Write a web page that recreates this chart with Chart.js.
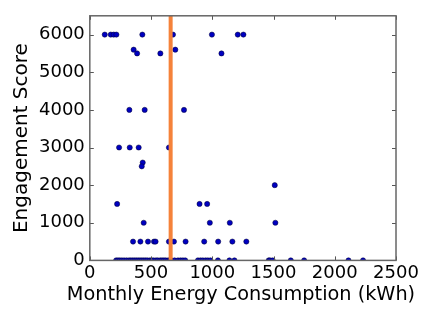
<!DOCTYPE html>
<html>
<head>
<meta charset="utf-8">
<script src="https://cdn.jsdelivr.net/npm/chart.js@4.4.0/dist/chart.umd.min.js"></script>
<style>
  html, body { margin: 0; padding: 0; background: #fff; }
  #wrap { width: 423px; height: 309px; }
</style>
</head>
<body>
<div id="wrap"><canvas id="chartGeral"></canvas></div>
<script>
// valores
var consumo = [
  122, 171, 195, 217, 429, 679, 997, 1208, 1254,
  358, 698,
  386, 576, 1075,
  323, 448, 769,
  239, 326, 399, 646,
  432, 424,
  223, 896, 958,
  440, 980, 1143, 1515,
  1510,
  353, 413, 475, 524, 537, 646, 687, 782, 934, 1048, 1164, 1278,
  215, 230, 245, 262, 280, 300, 320, 335, 350, 365, 380, 395, 410, 425, 440,
  455, 470, 490, 505, 520, 540, 555, 575, 590, 605, 620, 640, 655,
  665, 692, 720, 741, 760, 779, 883, 904, 923, 945, 964, 985, 1046, 1140, 1181,
  1461, 1471, 1493, 1641, 1750, 2112, 2231
];
var engajamento = [
  6000, 6000, 6000, 6000, 6000, 6000, 6000, 6000, 6000,
  5600, 5600,
  5500, 5500, 5500,
  4000, 4000, 4000,
  3000, 3000, 3000, 3000,
  2600, 2500,
  1500, 1500, 1500,
  1000, 1000, 1000, 1000,
  2000,
  500, 500, 500, 500, 500, 500, 500, 500, 500, 500, 500, 500,
  0, 0, 0, 0, 0, 0, 0, 0, 0, 0, 0, 0, 0, 0, 0,
  0, 0, 0, 0, 0, 0, 0, 0, 0, 0, 0, 0, 0,
  0, 0, 0, 0, 0, 0, 0, 0, 0, 0, 0, 0, 0, 0, 0,
  0, 0, 0, 0, 0, 0, 0
];
var mediaConsumo = 660;
var ticksX = [0, 500, 1000, 1500, 2000, 2500];
var ticksY = [0, 1000, 2000, 3000, 4000, 5000, 6000];
var tituloX = 'Monthly Energy Consumption (kWh)';

var pontos = [];
for (var i = 0; i < consumo.length; i++) {
  pontos.push({ x: consumo[i], y: engajamento[i] });
}

// moldura + tracinhos pra dentro (estilo matplotlib) + titulo do eixo x
var moldura = {
  id: 'moldura',
  afterDraw: function (chart) {
    var ctx = chart.ctx;
    var a = chart.chartArea;
    var sx = chart.scales.x, sy = chart.scales.y;
    ctx.save();
    ctx.strokeStyle = '#555';
    ctx.lineWidth = 1;
    ctx.beginPath();
    ticksX.forEach(function (v) {
      var px = Math.round(sx.getPixelForValue(v)) + 0.5;
      ctx.moveTo(px, a.bottom); ctx.lineTo(px, a.bottom - 4);
      ctx.moveTo(px, a.top); ctx.lineTo(px, a.top + 4);
    });
    ticksY.forEach(function (v) {
      var py = Math.round(sy.getPixelForValue(v)) + 0.5;
      ctx.moveTo(a.left, py); ctx.lineTo(a.left + 4, py);
      ctx.moveTo(a.right, py); ctx.lineTo(a.right - 4, py);
    });
    ctx.stroke();
    ctx.strokeStyle = '#666';
    ctx.lineWidth = 1.5;
    ctx.strokeRect(a.left, a.top, a.right - a.left, a.bottom - a.top);

    // o titulo passa da largura do eixo, entao desenho na mao
    ctx.fillStyle = '#000';
    ctx.font = '19.3px "DejaVu Sans"';
    ctx.textAlign = 'center';
    ctx.textBaseline = 'middle';
    ctx.fillText(tituloX, 241, 295);
    ctx.restore();
  }
};

function semVirgula(v) { return String(v); }

var config = {
  type: 'scatter',
  data: {
    datasets: [
      {
        label: 'Usuarios',
        data: pontos,
        backgroundColor: '#0000c0',
        borderColor: '#000033',
        borderWidth: 0.5,
        pointRadius: 2.6,
        order: 2
      },
      {
        label: 'Media',
        type: 'line',
        data: [{ x: mediaConsumo, y: 0 }, { x: mediaConsumo, y: 6500 }],
        borderColor: '#f5823a',
        borderWidth: 4,
        pointRadius: 0,
        order: 1
      }
    ]
  },
  options: {
    animation: false,
    responsive: true,
    maintainAspectRatio: false,
    layout: { padding: { left: 10, right: 27, top: -8, bottom: 23 } },
    plugins: { legend: { display: false }, tooltip: { enabled: false } },
    scales: {
      x: {
        type: 'linear',
        min: 0,
        max: 2500,
        afterBuildTicks: function (axis) { axis.ticks = ticksX.map(function (v) { return { value: v }; }); },
        grid: { display: false, drawTicks: false },
        border: { display: false },
        ticks: { color: '#000', font: { family: 'DejaVu Sans', size: 18 }, padding: 2, maxRotation: 0, callback: semVirgula }
      },
      y: {
        type: 'linear',
        min: 0,
        max: 6500,
        afterBuildTicks: function (axis) { axis.ticks = ticksY.map(function (v) { return { value: v }; }); },
        grid: { display: false, drawTicks: false },
        border: { display: false },
        ticks: { color: '#000', font: { family: 'DejaVu Sans', size: 18 }, padding: 5, callback: semVirgula },
        title: { display: true, text: 'Engagement Score', color: '#000', font: { family: 'DejaVu Sans', size: 20 }, padding: { top: 0, bottom: 0 } }
      }
    }
  },
  plugins: [moldura]
};

var chartGeral = new Chart(document.getElementById('chartGeral'), config);
</script>
</body>
</html>
